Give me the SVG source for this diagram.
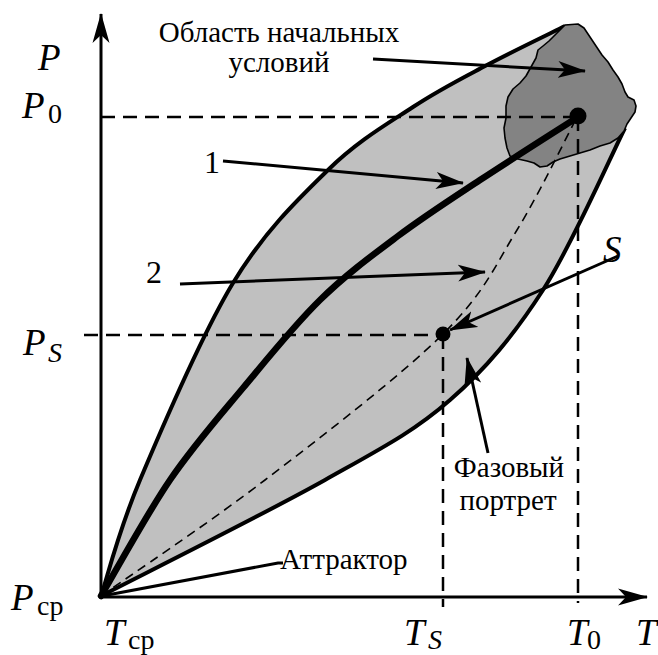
<svg xmlns="http://www.w3.org/2000/svg" width="658" height="655" viewBox="0 0 658 655">
<style>
.bd{fill:none;stroke:#000;stroke-width:4;stroke-linejoin:round}
.ref{fill:none;stroke:#000;stroke-width:2.5;stroke-dasharray:14 8}
.ld{fill:none;stroke:#000;stroke-width:3}
.lbl{font-family:"Liberation Serif","Times New Roman",serif;font-size:29px;fill:#000}
.num{font-family:"Liberation Serif","Times New Roman",serif;font-size:32px;fill:#000}
.var{font-family:"Liberation Serif","Times New Roman",serif;font-size:37px;font-style:italic;fill:#000}
.sub{font-family:"Liberation Serif","Times New Roman",serif;font-size:28px;fill:#000}
.subi{font-family:"Liberation Serif","Times New Roman",serif;font-size:28px;font-style:italic;fill:#000}
</style>
<defs>
<marker id="ah" viewBox="0 0 28 18" refX="27" refY="9" markerWidth="28" markerHeight="18" markerUnits="userSpaceOnUse" orient="auto">
<path d="M28,9 L0,0.5 L7,9 L0,17.5 Z" fill="#000"/>
</marker>
<marker id="ax" viewBox="0 0 30 18" refX="29" refY="9" markerWidth="30" markerHeight="18" markerUnits="userSpaceOnUse" orient="auto">
<path d="M30,9 L0,0.5 L8,9 L0,17.5 Z" fill="#000"/>
</marker>
</defs>
<rect width="658" height="655" fill="#fff"/>

<g id="phase-portrait">
<path d="M101,596 C107.5,576.7 118,532.2 140,480 C162,427.8 201.7,334.7 233,283 C264.3,231.3 298,199.3 328,170 C358,140.7 386.5,124.5 413,107 C439.5,89.5 461.7,78.5 487,65 C512.3,51.5 552,32.5 565,26 L625,128 C611.3,155 572.2,244.7 543,290 C513.8,335.3 486.3,368.3 450,400 C413.7,431.7 383.2,447.3 325,480 C266.8,512.7 138.3,576.7 101,596 Z" fill="#c0c0c0"/>
<path class="bd" d="M101,596 C107.5,576.7 118,532.2 140,480 C162,427.8 201.7,334.7 233,283 C264.3,231.3 298,199.3 328,170 C358,140.7 386.5,124.5 413,107 C439.5,89.5 461.7,78.5 487,65 C512.3,51.5 552,32.5 565,26"/>
<path class="bd" d="M101,596 C138.3,576.7 266.8,512.7 325,480 C383.2,447.3 413.7,431.7 450,400 C486.3,368.3 513.8,335.3 543,290 C572.2,244.7 611.3,155 625,128"/>
</g>

<g id="initial-region">
<path d="M565,25 L578,24 L584,28 L590,37 L596,46 L602,55 L608,62 L613,70 L618,77 L622,84 L625,92 L628,97 L634,100 L636,106 L635,112 L631,118 L627,124 L624,131 L618,138 L610,143 L600,146 L590,150 L580,153 L570,156 L560,159 L553,162 L547,166 L540,167 L534,163 L527,161 L518,159 L510,156 L507,148 L505,138 L504,128 L506,118 L506,106 L508,97 L513,89 L520,83 L526,76 L531,67 L536,58 L538,50 L543,46 L549,41 L556,34 Z" fill="#838383" stroke="#000" stroke-width="1.6" stroke-linejoin="round"/>
</g>

<g id="trajectory-1">
<path d="M101,596 C112.5,576.7 146.3,514.7 170,480 C193.7,445.3 218,418 243,388 C268,358 294.2,325.3 320,300 C345.8,274.7 371.3,256 398,236 C424.7,216 450,199.8 480,180 C510,160.2 561.7,127.5 578,117" fill="none" stroke="#000" stroke-width="6.5" stroke-linecap="round"/>
</g>

<g id="trajectory-2">
<path d="M101,596 C128.3,576.7 208,523.7 265,480 C322,436.3 401,375.7 443,334 C485,292.3 494.7,266.2 517,230 C539.3,193.8 567,135.8 577,117" fill="none" stroke="#000" stroke-width="1.6" stroke-dasharray="9 6"/>
</g>

<g id="reference-lines">
<path class="ref" d="M101,117 H578"/>
<path class="ref" d="M578,117 V603"/>
<path class="ref" d="M84,335 H443"/>
<path class="ref" d="M443,335 V607"/>
</g>

<g id="axes">
<path class="ld" d="M101,598 V14" marker-end="url(#ax)"/>
<path class="ld" d="M99,597 H647" marker-end="url(#ax)"/>
</g>

<g id="point-0"><circle cx="578" cy="116" r="8.5" fill="#000"/></g>
<g id="point-S"><circle cx="443" cy="334" r="7.5" fill="#000"/></g>

<g id="connectors">
<path class="ld" d="M373,59 L585,71" marker-end="url(#ah)"/>
<path class="ld" d="M223,161 L463,183" marker-end="url(#ah)"/>
<path class="ld" d="M180,284 L485,272" marker-end="url(#ah)"/>
<path class="ld" d="M618,256 L450,330" marker-end="url(#ah)"/>
<path class="ld" d="M488,453 L467,358" marker-end="url(#ah)"/>
<path class="ld" d="M102,596 L278,563 L283,563"/>
</g>

<g id="labels">
<text class="lbl" x="279" y="42" text-anchor="middle">Область начальных</text>
<text class="lbl" x="279" y="72" text-anchor="middle">условий</text>
<text class="num" x="204" y="173">1</text>
<text class="num" x="146" y="283">2</text>
<text class="lbl" x="509" y="477" text-anchor="middle">Фазовый</text>
<text class="lbl" x="508" y="510" text-anchor="middle">портрет</text>
<text class="lbl" x="280" y="569">Аттрактор</text>
<text class="var" x="603" y="262">S</text>
</g>

<g id="axis-labels">
<text class="var" x="38" y="70">P</text>
<text class="var" x="22" y="118">P</text><text class="sub" x="48" y="123">0</text>
<text class="var" x="23" y="355">P</text><text class="subi" x="48" y="362">S</text>
<text class="var" x="11" y="610">P</text><text class="sub" x="37" y="615">ср</text>
<text class="var" x="104" y="645">T</text><text class="sub" x="128" y="649">ср</text>
<text class="var" x="404" y="645">T</text><text class="subi" x="428" y="649">S</text>
<text class="var" x="567" y="645">T</text><text class="sub" x="587" y="649">0</text>
<text class="var" x="636" y="645">T</text>
</g>
</svg>
